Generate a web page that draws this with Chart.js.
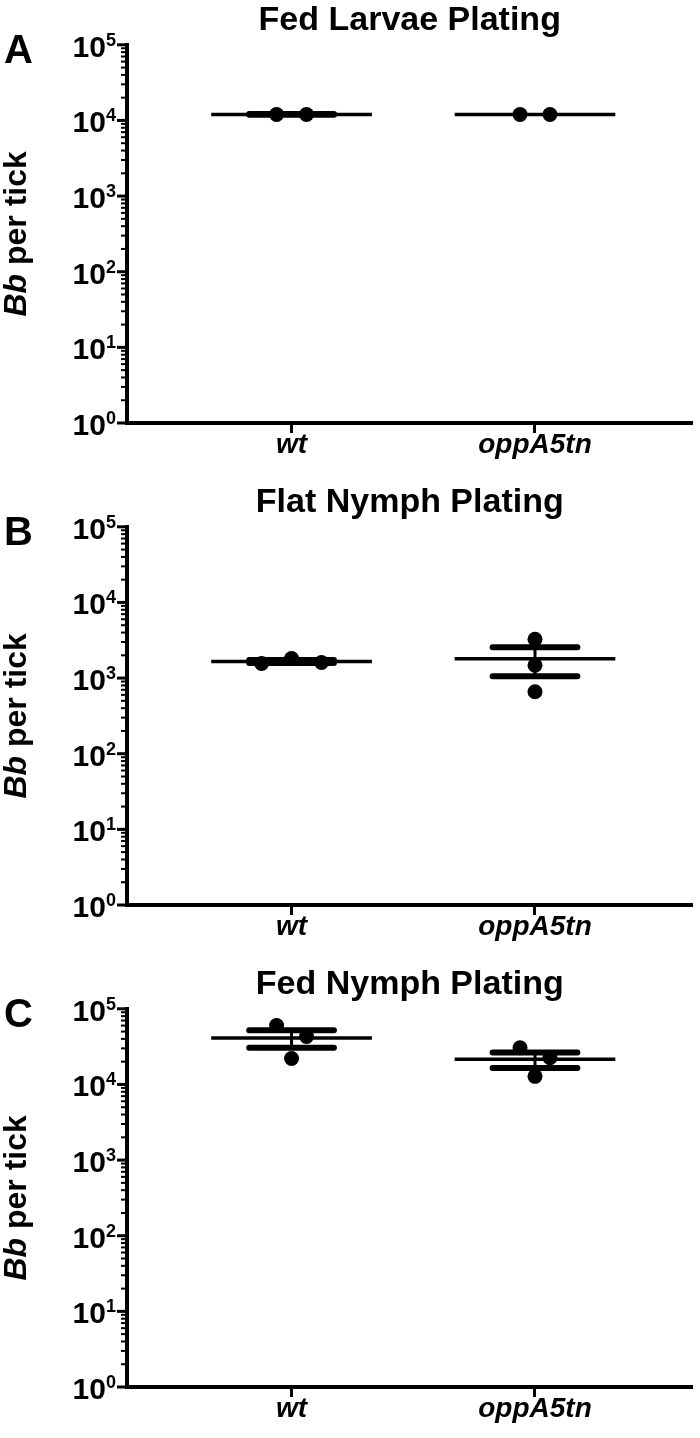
<!DOCTYPE html>
<html>
<head>
<meta charset="utf-8">
<script src="https://cdn.jsdelivr.net/npm/chart.js@4.4.0/dist/chart.umd.min.js"></script>
<style>
  html, body { margin: 0; padding: 0; background: #fff; overflow: hidden; }
  .panel { position: absolute; left: 0; width: 700px; height: 480px; }
</style>
</head>
<body>
<div class="panel" style="top:0px"><canvas id="chartA" width="700" height="480"></canvas></div>
<div class="panel" style="top:482px"><canvas id="chartB" width="700" height="480"></canvas></div>
<div class="panel" style="top:964px"><canvas id="chartC" width="700" height="480"></canvas></div>
<script>
const groups = ["wt", "oppA5tn"];
const yExponents = [0, 1, 2, 3, 4, 5];

// A - fed larvae
const fedLarvaeWt = [12000, 12000];
const fedLarvaeOpp = [12000, 12000];
const fedLarvaeMean = [12000, 12000];
const fedLarvaeSemHi = [12150, null];
const fedLarvaeSemLo = [11850, null];

// B - flat nymph
const flatNymphWt = [1560, 1815, 1610];
const flatNymphOpp = [3260, 1480, 660];
const flatNymphMean = [1660, 1800];
const flatNymphSemHi = [1740, 2560];
const flatNymphSemLo = [1580, 1060];

// C - fed nymph
const fedNymphWt = [60000, 43000, 22000];
const fedNymphOpp = [30500, 22500, 12800];
const fedNymphMean = [41100, 21500];
const fedNymphSemHi = [52000, 26500];
const fedNymphSemLo = [30500, 16500];

const FONT = "'Liberation Sans', Arial, sans-serif";
const X_MIN = -0.676, X_MAX = 1.647;
const MEAN_HALF = 0.33, SEM_HALF = 0.174, JITTER = 0.123;

// points closer than ~0.2 decade share a row and get spread sideways
function rows(values) {
  const out = [];
  values.forEach(v => {
    const last = out[out.length - 1];
    if (last && last.some(u => Math.abs(Math.log10(u) - Math.log10(v)) < 0.2)) last.push(v);
    else out.push([v]);
  });
  return out;
}

function scatterPoints(values, gi) {
  const pts = [];
  rows(values).forEach(row => {
    row.forEach((v, k) => pts.push({ x: gi + (k - (row.length - 1) / 2) * JITTER, y: v }));
  });
  return pts;
}

function seg(x0, x1, y0, y1, width, cap) {
  return {
    type: "line",
    data: [{ x: x0, y: y0 }, { x: x1, y: y1 }],
    borderColor: "#000",
    borderWidth: width,
    borderCapStyle: cap,
    pointRadius: 0,
    showLine: true
  };
}

const axisDecor = {
  id: "axisDecor",
  afterDraw(chart, args, opts) {
    const ctx = chart.ctx;
    const y = chart.scales.y;
    const left = chart.chartArea.left;
    ctx.save();
    ctx.fillStyle = "#000";
    ctx.strokeStyle = "#000";

    // minor ticks
    ctx.lineWidth = 2;
    for (let p = 0; p < 5; p++) {
      for (let m = 2; m <= 9; m++) {
        const yy = y.getPixelForValue(m * Math.pow(10, p));
        ctx.beginPath();
        ctx.moveTo(left - 6, yy);
        ctx.lineTo(left, yy);
        ctx.stroke();
      }
    }
    // major ticks + labels
    yExponents.forEach(p => {
      const yy = y.getPixelForValue(Math.pow(10, p));
      ctx.lineWidth = 3;
      ctx.beginPath();
      ctx.moveTo(left - 10, yy);
      ctx.lineTo(left, yy);
      ctx.stroke();

      ctx.textAlign = "right";
      ctx.textBaseline = "alphabetic";
      ctx.font = "bold 18px " + FONT;
      const ex = left - 11;
      const expW = ctx.measureText(String(p)).width;
      ctx.fillText(String(p), ex, yy + 1);
      ctx.font = "bold 30px " + FONT;
      ctx.fillText("10", ex - expW, yy + 12);
    });

    // y title, "Bb" italic
    const cy = (chart.chartArea.top + chart.chartArea.bottom) / 2;
    ctx.translate(26, cy);
    ctx.rotate(-Math.PI / 2);
    ctx.textAlign = "left";
    ctx.font = "italic bold 32px " + FONT;
    const w1 = ctx.measureText("Bb").width;
    ctx.font = "bold 32px " + FONT;
    const w2 = ctx.measureText(" per tick").width;
    const start = -(w1 + w2) / 2;
    ctx.font = "italic bold 32px " + FONT;
    ctx.fillText("Bb", start, 0);
    ctx.font = "bold 32px " + FONT;
    ctx.fillText(" per tick", start + w1, 0);
    ctx.setTransform(1, 0, 0, 1, 0, 0);

    // panel letter
    ctx.textAlign = "left";
    ctx.font = "bold 40px " + FONT;
    ctx.fillText(opts.letter, 4, 63);
    ctx.restore();
  }
};

function makePanel(id, letter, title, series, mean, hi, lo) {
  const datasets = [];
  groups.forEach((g, gi) => {
    datasets.push(seg(gi - MEAN_HALF, gi + MEAN_HALF, mean[gi], mean[gi], 3.5, "butt"));
    if (hi[gi] != null) {
      datasets.push(seg(gi - SEM_HALF, gi + SEM_HALF, hi[gi], hi[gi], 6, "round"));
      datasets.push(seg(gi - SEM_HALF, gi + SEM_HALF, lo[gi], lo[gi], 6, "round"));
      datasets.push(seg(gi, gi, lo[gi], hi[gi], 3, "butt"));
    }
    datasets.push({
      type: "scatter",
      data: scatterPoints(series[gi], gi),
      pointRadius: 7.5,
      pointBackgroundColor: "#000",
      pointBorderWidth: 0
    });
  });

  const canvas = document.getElementById(id);
  const H = canvas.height;
  new Chart(canvas, {
    type: "scatter",
    data: { datasets },
    options: {
      responsive: false,
      animation: false,
      devicePixelRatio: 1,
      layout: { padding: { left: 0, right: 7, top: 0, bottom: 0 } },
      plugins: {
        legend: { display: false },
        tooltip: { enabled: false },
        title: {
          display: true,
          text: title,
          fullSize: false,
          color: "#000",
          font: { family: FONT, size: 34, weight: "bold", lineHeight: 1.2 },
          padding: { top: 0, bottom: 4 }
        },
        axisDecor: { letter }
      },
      scales: {
        x: {
          type: "linear",
          min: X_MIN,
          max: X_MAX,
          afterBuildTicks: s => { s.ticks = [{ value: 0 }, { value: 1 }]; },
          afterFit: s => { s.height = H - 423; },
          border: { display: true, color: "#000", width: 4 },
          grid: { display: true, drawOnChartArea: false, drawTicks: true, tickLength: 10, tickWidth: 3, tickColor: "#000" },
          ticks: {
            color: "#000",
            padding: -5,
            font: { family: FONT, size: 28, weight: "bold", style: "italic" },
            callback: v => groups[v]
          }
        },
        y: {
          type: "logarithmic",
          min: 1,
          max: 100000,
          afterFit: s => { s.width = 127; },
          border: { display: true, color: "#000", width: 4 },
          grid: { display: false },
          ticks: { display: false }
        }
      }
    },
    plugins: [axisDecor]
  });
}

makePanel("chartA", "A", "Fed Larvae Plating", [fedLarvaeWt, fedLarvaeOpp], fedLarvaeMean, fedLarvaeSemHi, fedLarvaeSemLo);
makePanel("chartB", "B", "Flat Nymph Plating", [flatNymphWt, flatNymphOpp], flatNymphMean, flatNymphSemHi, flatNymphSemLo);
makePanel("chartC", "C", "Fed Nymph Plating", [fedNymphWt, fedNymphOpp], fedNymphMean, fedNymphSemHi, fedNymphSemLo);
</script>
</body>
</html>
